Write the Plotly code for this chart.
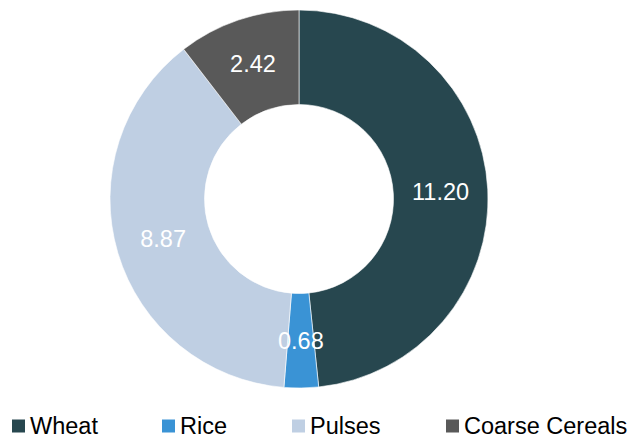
import math
import plotly.graph_objects as go

# Production share by crop
crops = ["Wheat", "Rice", "Pulses", "Coarse Cereals"]
values = [11.20, 0.68, 8.87, 2.42]
colors = ["#27474F", "#3A93D5", "#BFCFE3", "#595959"]

W, H = 631, 436
FONT = "Liberation Sans, Arial, sans-serif"
LABEL_SIZE = 23.5

# Donut geometry (pixels)
cx, cy = 299, 199
top, bottom = 10, 48
radius = (H - top - bottom) / 2
hole = 0.5
mid_r = radius * (1 + hole) / 2

# The thin Rice slice gets its label drawn as an annotation at its mid-angle,
# so it keeps full size in the middle of the ring.
thin = [v / sum(values) < 0.05 for v in values]
texts = ["" if t else f"{v:.2f}" for v, t in zip(values, thin)]

fig = go.Figure(
    go.Pie(
        labels=crops,
        values=values,
        text=texts,
        sort=False,
        direction="clockwise",
        rotation=0,
        hole=hole,
        marker=dict(colors=colors, line=dict(color="white", width=0.6)),
        textinfo="text",
        textposition="inside",
        insidetextorientation="horizontal",
        textfont=dict(color="white", size=LABEL_SIZE, family=FONT),
        hoverinfo="label+value",
        showlegend=False,
        domain=dict(x=[0, 2 * cx / W], y=[bottom / H, 1 - top / H]),
    )
)

annotations = []
total = sum(values)
cum = 0.0
for v, t in zip(values, thin):
    if t:
        ang = 2 * math.pi * (cum + v / 2) / total
        px = cx + mid_r * math.sin(ang)
        py = cy - mid_r * math.cos(ang)
        annotations.append(dict(
            text=f"{v:.2f}", xref="paper", yref="paper",
            x=px / W, y=1 - py / H, xanchor="center", yanchor="middle",
            showarrow=False,
            font=dict(size=LABEL_SIZE, color="white", family=FONT),
        ))
    cum += v

# Legend row along the bottom: square swatch followed by the crop name
legend_x = [12, 162, 292, 446]
sq = 13
shapes = []
for name, col, x0 in zip(crops, colors, legend_x):
    shapes.append(dict(
        type="rect", xref="paper", yref="paper",
        x0=x0 / W, x1=(x0 + sq) / W,
        y0=1 - 432.5 / H, y1=1 - 419.5 / H,
        fillcolor=col, line=dict(width=0),
    ))
    annotations.append(dict(
        text=name, xref="paper", yref="paper",
        x=(x0 + 17) / W, y=1 - 425.5 / H,
        xanchor="left", yanchor="middle", showarrow=False,
        borderpad=0,
        font=dict(size=23.5, color="#000000", family=FONT),
    ))

fig.update_layout(
    width=W, height=H,
    margin=dict(l=0, r=0, t=0, b=0),
    paper_bgcolor="white",
    plot_bgcolor="white",
    shapes=shapes,
    annotations=annotations,
)

fig.write_html("out.html")
